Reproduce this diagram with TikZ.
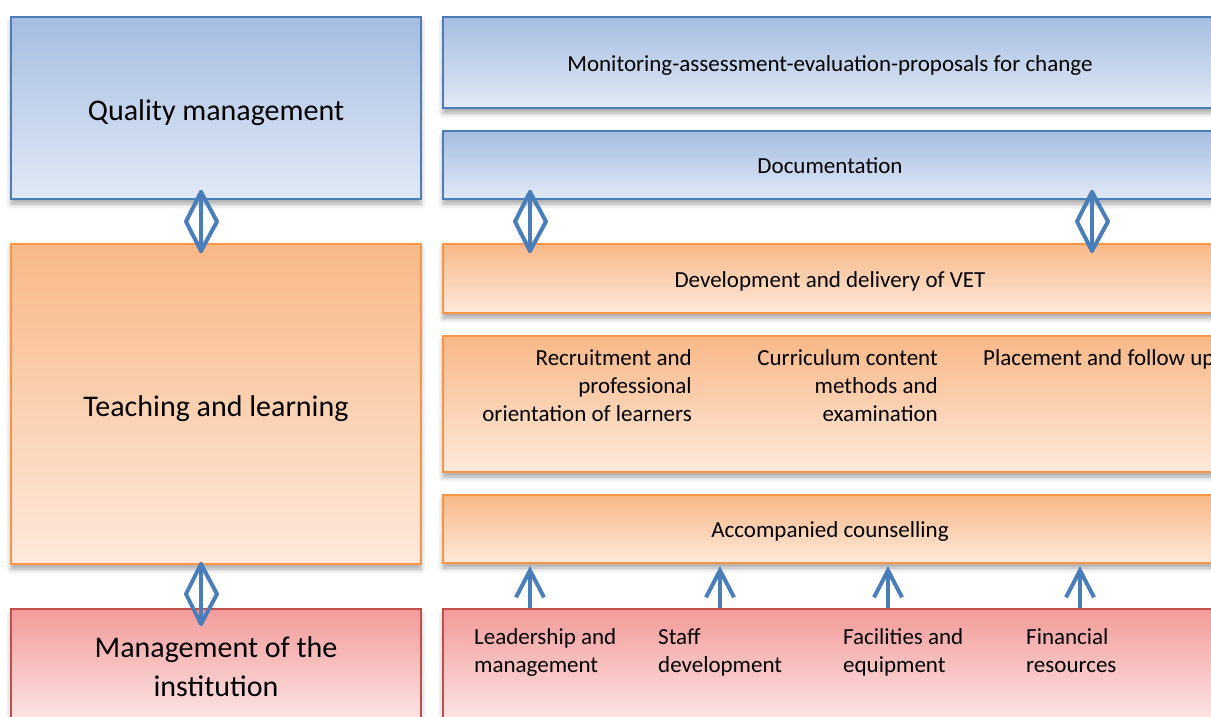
\documentclass[tikz,border=0pt]{standalone}
\usepackage{fontspec}
\setmainfont{Carlito}
\usetikzlibrary{arrows.meta,shadows.blur,calc}
\definecolor{qmline}{HTML}{4A7EBB}
\definecolor{qmtop}{HTML}{A5BDE1}
\definecolor{qmbot}{HTML}{E1EAF6}
\definecolor{tlline}{HTML}{F79646}
\definecolor{tltop}{HTML}{F8B887}
\definecolor{tlbot}{HTML}{FDE9DB}
\definecolor{miline}{HTML}{C0504D}
\definecolor{mitop}{HTML}{F29B9A}
\definecolor{mibot}{HTML}{FDE8E8}

\begin{document}
\begin{tikzpicture}[x=1pt,y=-1pt,
		box/.style={draw, line width=2pt, anchor=north west, inner sep=0pt,
			blur shadow={shadow xshift=0pt,shadow yshift=-5pt,shadow blur radius=5pt,shadow opacity=35}},
		qmbox/.style={box, draw=qmline, top color=qmtop, bottom color=qmbot},
		tlbox/.style={box, draw=tlline, top color=tltop, bottom color=tlbot},
		mibox/.style={box, draw=miline, top color=mitop, bottom color=mibot},
		bigtext/.style={font=\fontsize{30}{39}\selectfont, align=center},
		smalltext/.style={font=\fontsize{23}{28}\selectfont},
		bigline/.style={bigtext, text height=32pt, text depth=7pt},
		smallline/.style={smalltext, text height=23pt, text depth=6pt},
		twoway/.style={qmline, line width=4pt, line cap=round, line join=round},
		oneway/.style={qmline, line width=4pt, -{Straight Barb[length=27pt,width=28pt]}}]
		\path[use as bounding box, clip] (0,0) rectangle (1211,717);

		% line with a diamond round it, for the two-way arrows
		\newcommand\twoway[2]{%
			\draw[twoway] (#1) -- (#2);
			\draw[twoway] (#1) -- ($(#1)!0.5!(#2)+(-15,0)$) -- (#2) -- ($(#1)!0.5!(#2)+(16,0)$) -- cycle;
		}

		% left column
		\node[qmbox, minimum width=410pt, minimum height=182pt, bigline] (quality) at (10,16) {Quality management};
		\node[tlbox, minimum width=410pt, minimum height=320pt, bigline] (teaching) at (10,243) {Teaching and learning};
		\node[mibox, minimum width=410pt, minimum height=116pt, bigtext] (institution) at (10,608) {Management of the\\institution};

		% right column
		\node[qmbox, minimum width=774pt, minimum height=91pt, smallline] (monitor) at (442,16) {Monitoring-assessment-evaluation-proposals for change};
		\node[qmbox, minimum width=774pt, minimum height=68pt, smallline] (docu) at (442,130) {Documentation};
		\node[tlbox, minimum width=774pt, minimum height=69pt, smallline] (vet) at (442,243) {Development and delivery of VET};
		\node[tlbox, minimum width=774pt, minimum height=136pt] (steps) at (442,335) {};
		\node[tlbox, minimum width=774pt, minimum height=68pt, smallline] (counsel) at (442,494) {Accompanied counselling};
		\node[mibox, minimum width=774pt, minimum height=116pt] (resources) at (442,608) {};

		% texts in the steps box
		\node[smalltext, align=right, anchor=north east, inner sep=0pt] (recruit) at ($(steps.north west)+(250,14)$) {Recruitment and\\professional\\orientation of learners};
		\node[smalltext, align=right, anchor=north east, inner sep=0pt] (curric) at ($(steps.north west)+(496,14)$) {Curriculum content\\methods and\\examination};
		\node[smalltext, align=left, anchor=north west, inner sep=0pt] (place) at ($(steps.north west)+(541,14)$) {Placement and follow up};

		% texts in the resources box
		\node[smalltext, align=left, anchor=north west, inner sep=0pt] (lead) at ($(resources.north west)+(32,20)$) {Leadership and\\management};
		\node[smalltext, align=left, anchor=north west, inner sep=0pt] (staff) at ($(resources.north west)+(216,20)$) {Staff\\development};
		\node[smalltext, align=left, anchor=north west, inner sep=0pt] (facil) at ($(resources.north west)+(401,20)$) {Facilities and\\equipment};
		\node[smalltext, align=left, anchor=north west, inner sep=0pt] (finance) at ($(resources.north west)+(584,20)$) {Financial\\resources};

		% two-way arrows
		\coordinate (qmdown) at ($(quality.south)+(-15,-8)$);
		\coordinate (tlup) at ($(teaching.north)+(-15,8)$);
		\coordinate (tldown) at ($(teaching.south)+(-15,-1)$);
		\coordinate (miup) at ($(institution.north)+(-15,16)$);
		\coordinate (docleft) at ($(docu.south west)+(88,-8)$);
		\coordinate (vetleft) at ($(vet.north west)+(88,8)$);
		\coordinate (docright) at ($(docu.south west)+(650,-8)$);
		\coordinate (vetright) at ($(vet.north west)+(650,8)$);
		\twoway{qmdown}{tlup}
		\twoway{tldown}{miup}
		\twoway{docleft}{vetleft}
		\twoway{docright}{vetright}

		% resources feed the counselling
		\foreach \dx in {88,278,446,638}
			\draw[oneway] ($(resources.north west)+(\dx,0)$) -- ($(counsel.south west)+(\dx,2)$);
	\end{tikzpicture}
\end{document}
